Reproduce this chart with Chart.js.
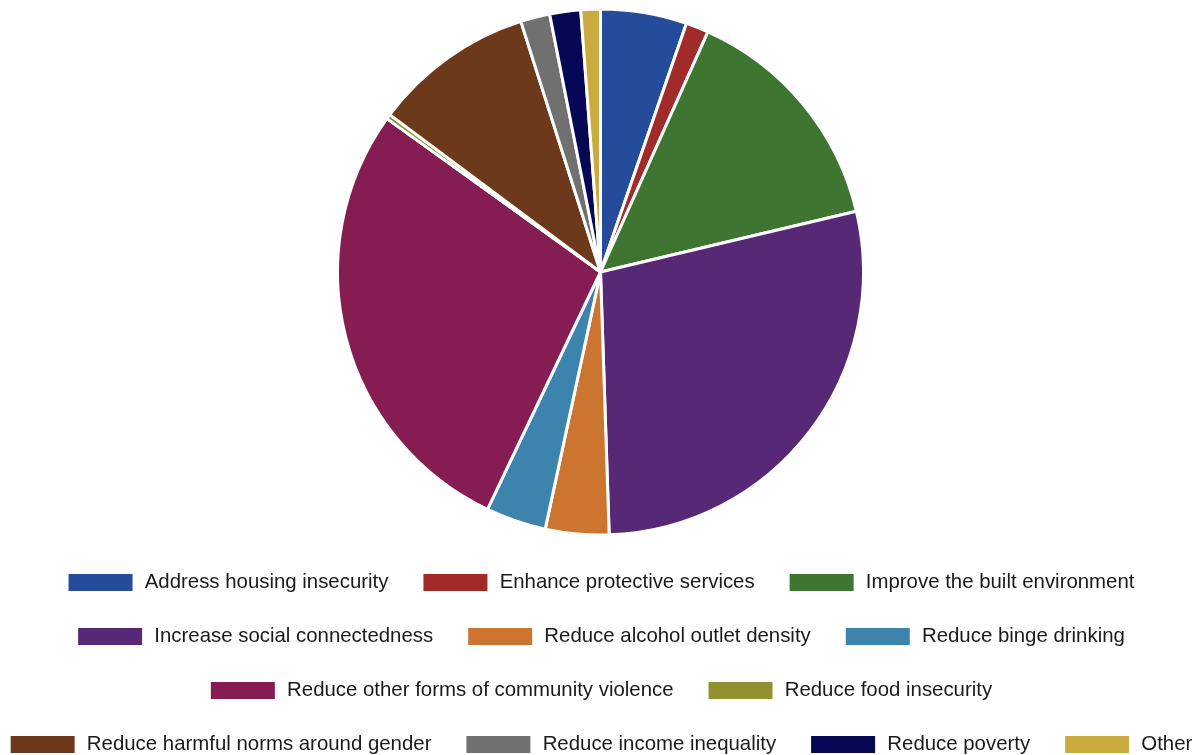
<!DOCTYPE html>
<html>
<head>
<meta charset="utf-8">
<script src="https://cdn.jsdelivr.net/npm/chart.js@4/dist/chart.umd.min.js"></script>
<style>
  html, body { margin: 0; padding: 0; background: #ffffff; }
  #wrap { width: 1201px; height: 755px; position: relative; }
</style>
</head>
<body>
<div id="wrap"><canvas id="c"></canvas></div>
<script>
const categories = [
  "Address housing insecurity",
  "Enhance protective services",
  "Improve the built environment",
  "Increase social connectedness",
  "Reduce alcohol outlet density",
  "Reduce binge drinking",
  "Reduce other forms of community violence",
  "Reduce food insecurity",
  "Reduce harmful norms around gender",
  "Reduce income inequality",
  "Reduce poverty",
  "Other"
];
const shares = [5.3, 1.4, 14.6, 28.2, 3.9, 3.7, 27.85, 0.3, 9.9, 1.8, 1.9, 1.2];
const colors = [
  "#244C9A", "#A12B29", "#3E7631", "#572875", "#CB7530", "#3C83AE",
  "#851D52", "#8F922F", "#6C3A1B", "#707070", "#070855", "#C9AB3F"
];

const shiftLegend = {
  id: 'shiftLegend',
  afterLayout(chart) {
    const lg = chart.legend;
    if (!lg) return;
    lg.top += 10; lg.bottom += 10;
  }
};

new Chart(document.getElementById('c'), {
  type: 'pie',
  data: {
    labels: categories,
    datasets: [{
      data: shares,
      backgroundColor: colors,
      borderColor: '#ffffff',
      borderWidth: 3,
      hoverBorderWidth: 3,
      radius: 263
    }]
  },
  options: {
    responsive: true,
    maintainAspectRatio: false,
    animation: false,
    layout: { padding: { top: 15, left: -35, right: -35 } },
    plugins: {
      tooltip: { enabled: false },
      legend: {
        position: 'bottom',
        labels: {
          boxWidth: 68,
          boxHeight: 21,
          padding: 33,
          color: '#1a1a1a',
          font: { family: "'Liberation Sans', Arial, Helvetica, sans-serif", size: 20.4 },
          generateLabels(chart) {
            return chart.data.labels.map((t, i) => ({
              text: t,
              fillStyle: colors[i],
              strokeStyle: '#ffffff',
              lineWidth: 4,
              fontColor: '#1a1a1a',
              hidden: false,
              index: i
            }));
          }
        }
      }
    }
  },
  plugins: [shiftLegend]
});
</script>
</body>
</html>
